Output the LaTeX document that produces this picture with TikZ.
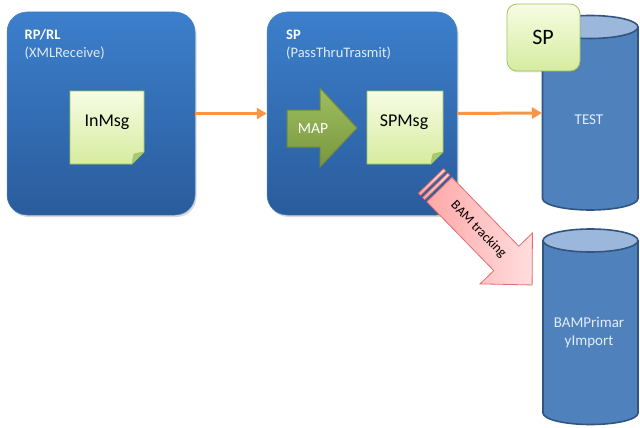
\documentclass[tikz,border=0pt]{standalone}
\usepackage{fontspec}
\setmainfont{Carlito}
\usetikzlibrary{arrows.meta,shadows}
\definecolor{boxtop}{RGB}{60,127,204}
\definecolor{boxbot}{RGB}{42,92,156}
\definecolor{boxline}{RGB}{74,132,200}
\definecolor{cylbodyc}{RGB}{79,129,189}
\definecolor{cyltopc}{RGB}{155,184,220}
\definecolor{cyllinec}{RGB}{50,85,128}
\definecolor{notetop}{RGB}{247,252,228}
\definecolor{notebot}{RGB}{214,236,158}
\definecolor{noteline}{RGB}{160,196,96}
\definecolor{notefold}{RGB}{170,200,110}
\definecolor{maptop}{RGB}{160,190,95}
\definecolor{mapbot}{RGB}{120,150,62}
\definecolor{mapline}{RGB}{113,137,63}
\definecolor{arroworange}{RGB}{247,150,70}
\definecolor{pinkdark}{RGB}{255,168,168}
\definecolor{pinklight}{RGB}{255,222,222}
\definecolor{pinkline}{RGB}{228,108,108}
\definecolor{cyltext}{RGB}{228,236,246}
\definecolor{subtxt}{RGB}{225,235,248}
\tikzset{
  bluebox/.style={rounded corners=20pt, top color=boxtop, bottom color=boxbot,
    draw=boxline, line width=0.5pt, inner sep=0pt,
    drop shadow={shadow xshift=1.5pt, shadow yshift=-2pt, opacity=0.3}},
  titletxt/.style={anchor=base west, text=subtxt, font=\fontsize{14.5}{17}\selectfont, inner sep=0pt},
  boldtitle/.style={titletxt, text=white, font=\bfseries\fontsize{14.5}{17}\selectfont},
  notebox/.style={top color=notetop, bottom color=notebot, draw=noteline, line width=0.6pt},
  notefoldst/.style={fill=notefold, draw=noteline, line width=0.5pt},
  notetxt/.style={font=\fontsize{18}{21}\selectfont, text=black, inner sep=0pt},
  orangearrow/.style={draw=arroworange, line width=3pt, -{Triangle[length=10pt,width=11pt]}},
  cylbodyst/.style={fill=cylbodyc},
  cyltopst/.style={fill=cyltopc},
  cyledge/.style={draw=cyllinec, line width=1.6pt},
  cyltxt/.style={text=cyltext, font=\fontsize{15}{18}\selectfont, align=center, inner sep=0pt},
  maparrow/.style={top color=maptop, bottom color=mapbot, draw=mapline, line width=1pt},
  pinkarrow/.style={left color=pinkdark, right color=pinklight, draw=pinkline, line width=0.8pt},
  greenbox/.style={rounded corners=10pt, top color=notetop, bottom color=notebot, draw=noteline,
    line width=0.8pt, inner sep=0pt}
}
\begin{document}
\begin{tikzpicture}[x=1pt,y=-1pt]
\useasboundingbox (0,0) rectangle (640,428);
\fill[white] (0,0) rectangle (640,428);

% blue process boxes
\node[bluebox, minimum width=188pt, minimum height=203pt] (rp) at (101,113.5) {};
\node[bluebox, minimum width=190pt, minimum height=203pt] (sp) at (362,113.5) {};

\node[boldtitle] (rptitle) at (24.5,40) {RP/RL};
\node[titletxt] (rpsub) at (24.5,58) {(XMLReceive)};
\node[boldtitle] (sptitle) at (286,40) {SP};
\node[titletxt] (spsub) at (286,58) {(PassThruTrasmit)};

% InMsg note
\path[notebox] (70,91) -- (144,91) -- (144,152) -- (132,164) -- (70,164) -- cycle;
\path[notefoldst] (144,152) -- (132,164) .. controls (133,158) .. (134,154) .. controls (138,153) .. cycle;
\node[notetxt] (inmsg) at (107,122) {InMsg};

% SPMsg note
\path[notebox] (367,91) -- (443,91) -- (443,152) -- (431,164) -- (367,164) -- cycle;
\path[notefoldst] (443,152) -- (431,164) .. controls (432,158) .. (433,154) .. controls (437,153) .. cycle;
\node[notetxt] (spmsg) at (404,122) {SPMsg};

% MAP block arrow
\path[maparrow] (287,110) -- (320,110) -- (320,88) -- (357,128) -- (320,167) -- (320,147) -- (287,147) -- cycle;
\node[text=white, font=\fontsize{15.5}{17}\selectfont, inner sep=0pt] (map) at (313,129) {MAP};

% TEST cylinder body
\fill[cylbodyst] (542.5,27) rectangle (638,198.5);
\fill[cylbodyst] (590.25,198.5) ellipse (47.75pt and 11.5pt);
\draw[cyledge] (542.5,27) -- (542.5,198.5) arc[start angle=180, end angle=360, x radius=47.75pt, y radius=11.5pt] -- (638,27);
\node[cyltxt] (test) at (589,120) {TEST};
\coordinate (testw) at (542,113);

% BAM cylinder body
\fill[cylbodyst] (543,240.5) rectangle (638,413);
\fill[cylbodyst] (590.5,413) ellipse (47.5pt and 11.5pt);
\draw[cyledge] (543,240.5) -- (543,413) arc[start angle=180, end angle=360, x radius=47.5pt, y radius=11.5pt] -- (638,240.5);
\node[cyltxt] (bam) at (589,333) {BAMPrimar\\yImport};

% orange connectors
\draw[orangearrow] (rp.east) -- (sp.west);
\draw[orangearrow] (sp.east) -- (testw);

% BAM tracking striped block arrow
\begin{scope}[shift={(431,181)}, rotate=-45.8]
  \path[pinkarrow] (0,-17.5) rectangle (3,17.5);
  \path[pinkarrow] (6,-17.5) rectangle (9,17.5);
  \path[pinkarrow] (12,-17.5) -- (108,-17.5) -- (108,-36.5) -- (145,0) -- (108,36.5) -- (108,17.5) -- (12,17.5) -- cycle;
  \node[rotate=-45.8, font=\fontsize{13.5}{15}\selectfont, inner sep=0pt] (bamlbl) at (68,0) {BAM tracking};
\end{scope}

% cylinder tops (drawn late)
\fill[cyltopst] (590.25,27) ellipse (47.75pt and 11.5pt);
\draw[cyledge] (590.25,27) ellipse (47.75pt and 11.5pt);
\fill[cyltopst] (590.5,240.5) ellipse (47.5pt and 11.5pt);
\draw[cyledge] (590.5,240.5) ellipse (47.5pt and 11.5pt);

% green SP box
\node[greenbox, minimum width=73pt, minimum height=67pt,
  drop shadow={shadow xshift=1pt, shadow yshift=-1.5pt, opacity=0.2}] (spbox) at (543.5,37.5) {};
\node[font=\fontsize{22}{24}\selectfont, inner sep=0pt] (splabel) at (543,37) {SP};
\end{tikzpicture}
\end{document}
